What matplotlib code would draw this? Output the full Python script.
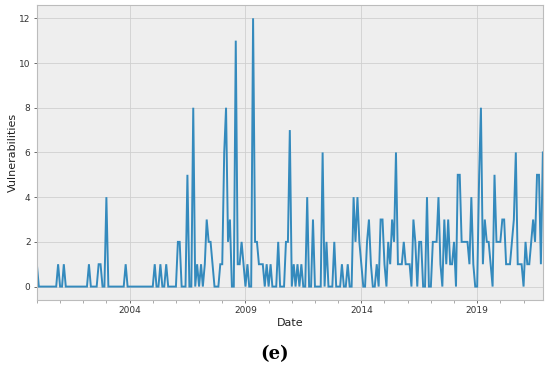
import matplotlib
matplotlib.use("Agg")
import matplotlib.pyplot as plt
import matplotlib.dates as mdates
import matplotlib.ticker as mticker
import pandas as pd
from datetime import datetime

# Monthly vulnerability counts, Jan 2000 .. Nov 2021
y2000 = [1, 0, 0, 0, 0, 0, 0, 0, 0, 0, 0, 1]
y2001 = [0, 0, 1, 0, 0, 0, 0, 0, 0, 0, 0, 0]
y2002 = [0, 0, 0, 1, 0, 0, 0, 0, 1, 1, 0, 0]
y2003 = [4, 0, 0, 0, 0, 0, 0, 0, 0, 0, 1, 0]
y2004 = [0, 0, 0, 0, 0, 0, 0, 0, 0, 0, 0, 0]
y2005 = [0, 1, 0, 0, 1, 0, 0, 1, 0, 0, 0, 0]
y2006 = [0, 2, 2, 0, 0, 0, 5, 0, 0, 8, 0, 1]
y2007 = [0, 1, 0, 1, 3, 2, 2, 1, 0, 0, 0, 1]
y2008 = [1, 6, 8, 2, 3, 0, 0, 11, 1, 1, 2, 1]
y2009 = [0, 1, 0, 0, 12, 2, 2, 1, 1, 1, 0, 1]
y2010 = [0, 1, 0, 0, 0, 2, 0, 0, 0, 2, 2, 7]
y2011 = [0, 1, 0, 1, 0, 1, 0, 0, 4, 0, 0, 3]
y2012 = [0, 0, 0, 0, 6, 0, 2, 0, 0, 0, 2, 0]
y2013 = [0, 0, 1, 0, 0, 1, 0, 0, 4, 2, 4, 2]
y2014 = [1, 0, 0, 2, 3, 1, 0, 0, 1, 0, 3, 3]
y2015 = [1, 0, 2, 1, 3, 2, 6, 1, 1, 1, 2, 1]
y2016 = [1, 1, 0, 3, 2, 0, 2, 2, 0, 0, 4, 0]
y2017 = [0, 2, 2, 2, 4, 1, 0, 3, 1, 3, 1, 1]
y2018 = [2, 0, 5, 5, 2, 2, 2, 2, 1, 4, 1, 0]
y2019 = [0, 5, 8, 1, 3, 2, 2, 1, 0, 5, 2, 2]
y2020 = [2, 3, 3, 1, 1, 1, 2, 3, 6, 1, 1, 1]
y2021 = [0, 2, 1, 1, 2, 3, 2, 5, 5, 1, 6]

values = (y2000 + y2001 + y2002 + y2003 + y2004 + y2005 + y2006 + y2007 +
          y2008 + y2009 + y2010 + y2011 + y2012 + y2013 + y2014 + y2015 +
          y2016 + y2017 + y2018 + y2019 + y2020 + y2021)
dates = pd.date_range("2000-01-01", periods=len(values), freq="MS")

major_years = [2004, 2009, 2014, 2019]
y_ticks = [0, 2, 4, 6, 8, 10, 12]

fig = plt.figure(figsize=(5.5, 3.75), dpi=100)
ax = fig.add_axes([0.067, 0.2, 0.92, 0.787])
ax.set_facecolor("#eeeeee")
ax.plot(dates, values, color="#348ABD", lw=1.4, solid_joinstyle="miter")
ax.set_xlim(dates[0], dates[-1])
ax.set_ylim(-0.6, 12.6)

ax.xaxis.set_major_locator(mticker.FixedLocator([mdates.date2num(datetime(y, 1, 1)) for y in major_years]))
ax.xaxis.set_major_formatter(mdates.DateFormatter("%Y"))
ax.xaxis.set_minor_locator(mdates.YearLocator(1))
ax.set_yticks(y_ticks)

ax.grid(True, color="#cfcfcf", lw=0.6)
ax.set_axisbelow(True)
for s in ax.spines.values():
    s.set_color("#bcbcbc")
    s.set_linewidth(0.8)
ax.tick_params(axis="both", which="major", labelsize=6.5, colors="#555555",
               labelcolor="#333333", length=2.5, width=0.6, pad=2)
ax.tick_params(axis="x", which="minor", length=2, width=0.5, colors="#888888")
ax.set_xlabel("Date", fontsize=8, color="#222222", labelpad=2)
ax.set_ylabel("Vulnerabilities", fontsize=8, color="#222222", labelpad=1)

fig.text(0.5, 0.055, "(e)", ha="center", va="center", fontsize=13,
         family="DejaVu Serif", fontweight="bold")

fig.savefig("out.png", dpi=100)
